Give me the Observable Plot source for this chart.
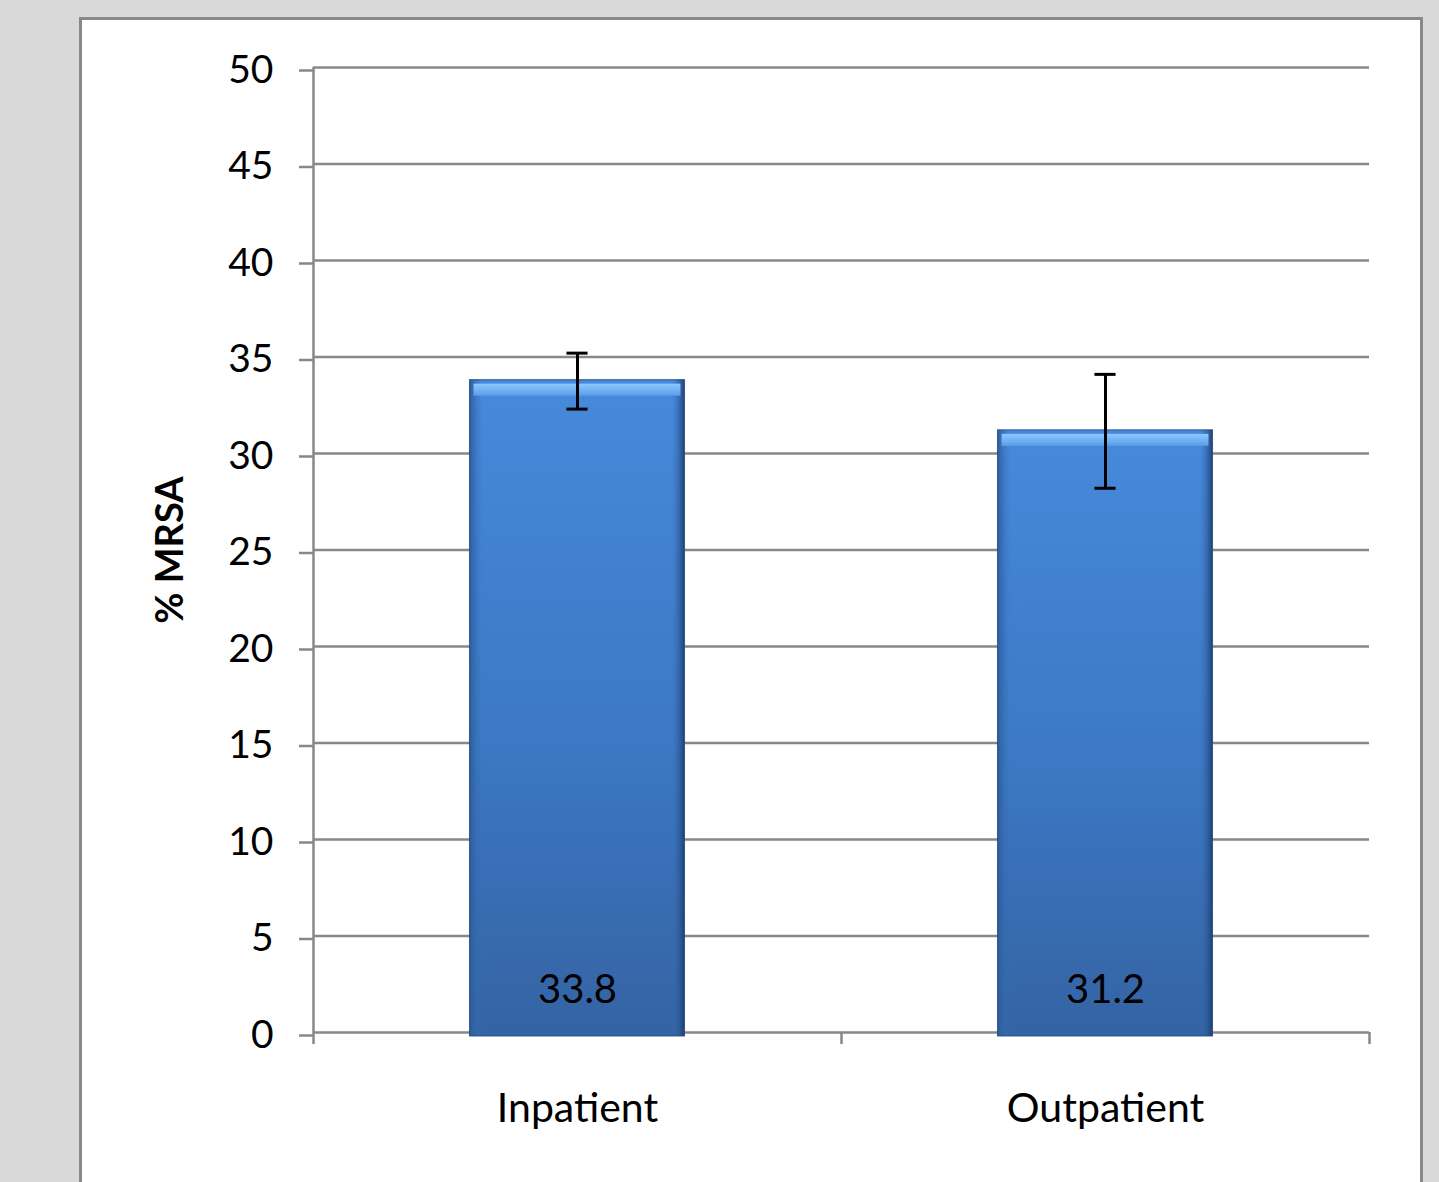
<!DOCTYPE html>
<html>
<head>
<meta charset="utf-8">
<script src="https://cdn.jsdelivr.net/npm/d3@7"></script>
<script src="https://cdn.jsdelivr.net/npm/@observablehq/plot@0.6"></script>
<style>
  html, body { margin: 0; padding: 0; background: #d9d9d9; width: 1439px; height: 1182px; overflow: hidden; }
  #frame { position: absolute; left: 79px; top: 17px; width: 1338px; height: 1180px; background: #fff; border: 3px solid #888; }
  #chart { position: absolute; left: 0; top: 0; }
  svg { font-family: Lato, "Open Sans", sans-serif; }
</style>
</head>
<body>
<div id="frame"></div>
<div id="chart"></div>
<script>
const categories = ["Inpatient", "Outpatient"];
const values = [33.8, 31.2];
const errLow = [32.3, 28.2];
const errHigh = [35.2, 34.1];
const yTicks = [0, 5, 10, 15, 20, 25, 30, 35, 40, 45, 50];

const halfBar = 0.2035;
const halfCap = 0.02;
const data = categories.map((c, i) => ({
  cat: c, i, v: values[i], lo: errLow[i], hi: errHigh[i],
  xc: i + 0.5, x1: i + 0.5 - halfBar, x2: i + 0.5 + halfBar
}));

const chart = Plot.plot({
  width: 1439,
  height: 1182,
  marginLeft: 313,
  marginRight: 70,
  marginTop: 67,
  marginBottom: 150,
  style: { background: "transparent", overflow: "visible" },
  x: { type: "linear", domain: [0, categories.length], axis: null },
  y: { type: "linear", domain: [0, 50], axis: null },
  marks: [
    // gridlines
    Plot.ruleY(yTicks, { y: d => d, x1: 0, x2: categories.length, stroke: "#888", strokeWidth: 2.5, strokeOpacity: 1 }),
    // y axis with ticks and labels
    Plot.axisY({ ticks: yTicks, tickSize: 14, tickPadding: 26, fontSize: 39, dy: 3, stroke: "#888", strokeWidth: 2.5, strokeOpacity: 1, color: "#000", label: null, tickFormat: d => String(d) }),
    // y axis line
    Plot.ruleX([0], { x: d => d, y1: 0, y2: 50, stroke: "#888", strokeWidth: 2.5 }),
    // x category boundary ticks
    Plot.axisX({ ticks: d3.range(categories.length + 1), tickSize: 12, tickFormat: () => "", stroke: "#888", strokeWidth: 2.5, strokeOpacity: 1, label: null }),
    // bars
    Plot.rectY(data, { x1: "x1", x2: "x2", y1: 0, y2: "v", fill: "url(#barGradV)", insetBottom: -4 }),
    Plot.rectY(data, { x1: "x1", x2: "x2", y1: 0, y2: "v", fill: "url(#barGradH)", insetBottom: -4 }),
    Plot.rectY(data, { x1: "x1", x2: "x2", y1: 0, y2: "v", fill: "url(#barTop)", insetLeft: 4, insetRight: 4 }),
    Plot.rectY(data, { x1: "x1", x2: "x2", y1: 0, y2: "v", fill: "none", stroke: "#1f4778", strokeWidth: 1.2, insetBottom: -4, strokeOpacity: 0.7 }),
    // value labels
    Plot.text(data, { x: "xc", y: 0, text: d => d.v.toFixed(1), dy: -42, fontSize: 40, fill: "#000" }),
    // error bars
    Plot.ruleX(data, { x: "xc", y1: "lo", y2: "hi", stroke: "#000", strokeWidth: 3 }),
    Plot.ruleY(data, { y: "lo", x1: d => d.xc - halfCap, x2: d => d.xc + halfCap, stroke: "#000", strokeWidth: 3 }),
    Plot.ruleY(data, { y: "hi", x1: d => d.xc - halfCap, x2: d => d.xc + halfCap, stroke: "#000", strokeWidth: 3 }),
    // category labels
    Plot.text(data, { x: "xc", y: 0, text: "cat", dy: 76, fontSize: 41, fill: "#000" }),
    // y axis title
    Plot.text(["% MRSA"], { x: 0, y: 25, text: d => d, rotate: -90, dx: -143, fontSize: 38, fontWeight: "bold", fill: "#000" })
  ]
});

// gradients
const svg = d3.select(chart);
const defs = svg.insert("defs", ":first-child");
const gv = defs.append("linearGradient").attr("id", "barGradV").attr("x1", 0).attr("y1", 0).attr("x2", 0).attr("y2", 1);
gv.append("stop").attr("offset", "0%").attr("stop-color", "#4789dc");
gv.append("stop").attr("offset", "55%").attr("stop-color", "#3c78c4");
gv.append("stop").attr("offset", "100%").attr("stop-color", "#3463a3");
const gh = defs.append("linearGradient").attr("id", "barGradH").attr("x1", 0).attr("y1", 0).attr("x2", 1).attr("y2", 0);
gh.append("stop").attr("offset", "0%").attr("stop-color", "#2a5a98").attr("stop-opacity", 0.9);
gh.append("stop").attr("offset", "6%").attr("stop-color", "#3a72bc").attr("stop-opacity", 0.0);
gh.append("stop").attr("offset", "94%").attr("stop-color", "#3a72bc").attr("stop-opacity", 0.0);
gh.append("stop").attr("offset", "100%").attr("stop-color", "#1c3f6e").attr("stop-opacity", 0.95);
const gt = defs.append("linearGradient").attr("id", "barTop").attr("x1", 0).attr("y1", 0).attr("x2", 0).attr("y2", 1);
gt.append("stop").attr("offset", "0%").attr("stop-color", "#8ec8ff");
gt.append("stop").attr("offset", "100%").attr("stop-color", "#5a9ee8");
// top highlight strip: fixed thickness just below bar top
svg.selectAll("g").filter(function() { return this.getAttribute("fill") === "url(#barTop)"; })
  .selectAll("rect")
  .each(function() {
    const r = d3.select(this);
    const y = +r.attr("y");
    r.attr("height", 12).attr("y", y + 4);
  });

document.getElementById("chart").appendChild(chart);
</script>
</body>
</html>
